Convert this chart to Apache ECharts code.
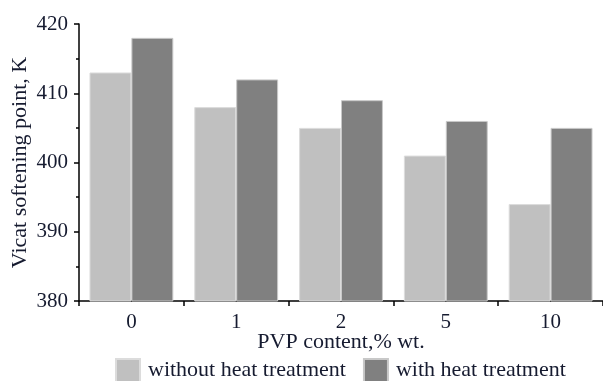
<!DOCTYPE html>
<html>
<head>
<meta charset="utf-8">
<script src="https://cdn.jsdelivr.net/npm/echarts@6/dist/echarts.min.js"></script>
<style>
  html, body { margin: 0; padding: 0; background: #fff; }
  #chart { width: 603px; height: 381px; }
</style>
</head>
<body>
<div id="chart"></div>
<script>
// PVP content categories (% wt.)
const categories = ['0', '1', '2', '5', '10'];
// Vicat softening point, K
const withoutHeat = [413, 408, 405, 401, 394];
const withHeat = [418, 412, 409, 406, 405];
const seriesNames = ['without heat treatment', 'with heat treatment'];

const textColor = '#161b30';
const font = 'Liberation Serif';

const chart = echarts.init(document.getElementById('chart'), null, { renderer: 'canvas' });
chart.setOption({
  animation: false,
  backgroundColor: '#fff',
  textStyle: { fontFamily: font, color: textColor },
  grid: { left: 79, right: 0, top: 24, bottom: 80, containLabel: false, outerBoundsMode: 'none' },
  legend: {
    left: 115,
    top: 358,
    padding: 0,
    itemWidth: 24,
    itemHeight: 23,
    itemGap: 17,
    icon: 'rect',
    textStyle: { fontFamily: font, fontSize: 22, color: textColor, padding: [0, 0, 0, 3] },
    data: seriesNames
  },
  xAxis: {
    type: 'category',
    data: categories,
    name: 'PVP content,% wt.',
    nameLocation: 'middle',
    nameGap: 30,
    nameMoveOverlap: false,
    nameTextStyle: { fontFamily: font, fontSize: 22, color: textColor },
    axisLine: { lineStyle: { color: '#000', width: 1.5 } },
    axisTick: { show: true, length: 5, lineStyle: { color: '#000', width: 1.5 } },
    axisLabel: { fontFamily: font, fontSize: 21, color: textColor, margin: 11 },
    splitLine: { show: false }
  },
  yAxis: {
    type: 'value',
    min: 380,
    max: 420,
    interval: 10,
    name: 'Vicat softening point, K',
    nameLocation: 'middle',
    nameGap: 48,
    nameMoveOverlap: false,
    nameTextStyle: { fontFamily: font, fontSize: 22, color: textColor },
    axisLine: { show: true, lineStyle: { color: '#000', width: 1.5 } },
    axisTick: { show: true, length: 5, lineStyle: { color: '#000', width: 1.5 } },
    minorTick: { show: true, splitNumber: 2, length: 3, lineStyle: { color: '#000', width: 1.5 } },
    axisLabel: { fontFamily: font, fontSize: 21, color: textColor, margin: 11 },
    splitLine: { show: false }
  },
  series: [
    {
      name: seriesNames[0],
      type: 'bar',
      data: withoutHeat,
      barGap: '0%',
      barCategoryGap: '20%',
      itemStyle: { color: '#c0c0c0', borderColor: '#dcdcdc', borderWidth: 1 }
    },
    {
      name: seriesNames[1],
      type: 'bar',
      data: withHeat,
      barGap: '0%',
      barCategoryGap: '20%',
      itemStyle: { color: '#808080', borderColor: '#c8c8c8', borderWidth: 1 }
    }
  ]
});
</script>
</body>
</html>
